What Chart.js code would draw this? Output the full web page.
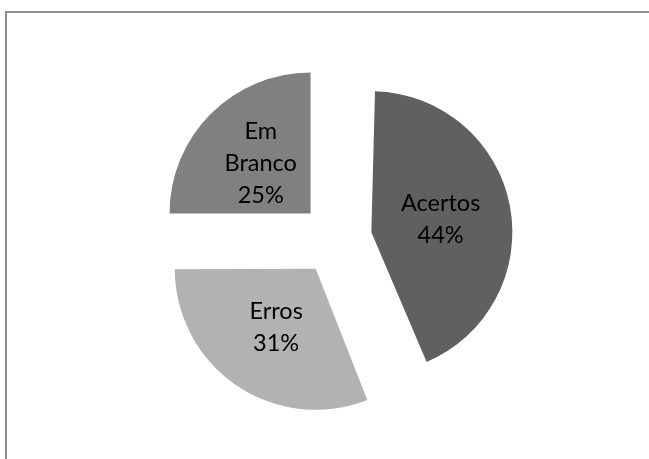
<!DOCTYPE html>
<html>
<head>
<meta charset="utf-8">
<script src="https://cdn.jsdelivr.net/npm/chart.js@4/dist/chart.umd.min.js"></script>
<style>
  html, body { margin: 0; padding: 0; background: #fff; overflow: hidden; }
  #wrap { position: relative; width: 649px; height: 459px; }
  #frame { position: absolute; left: 5px; top: 11px; width: 700px; height: 500px;
           border: 2px solid #8e8e8e; box-sizing: border-box; }
  canvas { position: absolute; left: 0; top: 0; }
</style>
</head>
<body>
<div id="wrap">
  <div id="frame"></div>
  <canvas id="c" width="649" height="459"></canvas>
</div>
<script>
// Answer breakdown
const categories = ['Acertos', 'Erros', 'Em Branco'];
const values = [44, 31, 25];
const colors = ['#606060', '#b2b2b2', '#808080'];

const EXPLODE = 36;       // distance each slice is pulled out from the centre (px)
const RADIUS = 141;
const LABEL_FONT = '23.5px Lato, "Open Sans", sans-serif';
const LINE_HEIGHT = 32;
const WRAP_WIDTH = 95;

const total = values.reduce((a, b) => a + b, 0);

// Chart.js translates an arc by offset/4 and also grows its radius by
// offset/4 * (1 - sin(circumference)); undo the growth so all slices keep one radius.
const evenRadius = {
  id: 'evenRadius',
  afterDatasetsUpdate(chart) {
    chart.getDatasetMeta(0).data.forEach((arc) => {
      const circ = arc.endAngle - arc.startAngle;
      const fix = 1 - Math.sin(Math.min(Math.PI, circ));
      arc.outerRadius = RADIUS - EXPLODE * fix;
    });
  }
};

function wrapText(ctx, text, maxWidth) {
  const words = text.split(' ');
  const lines = [];
  let line = '';
  for (const w of words) {
    const test = line ? line + ' ' + w : w;
    if (line && ctx.measureText(test).width > maxWidth) {
      lines.push(line);
      line = w;
    } else {
      line = test;
    }
  }
  if (line) lines.push(line);
  return lines;
}

const sliceLabels = {
  id: 'sliceLabels',
  afterDatasetsDraw(chart) {
    const ctx = chart.ctx;
    const meta = chart.getDatasetMeta(0);
    const ds = chart.data.datasets[0];
    ctx.save();
    ctx.font = LABEL_FONT;
    ctx.fillStyle = '#000';
    ctx.textAlign = 'center';
    ctx.textBaseline = 'middle';
    meta.data.forEach((arc, i) => {
      const p = arc.getProps(['x', 'y', 'startAngle', 'endAngle']);
      const mid = (p.startAngle + p.endAngle) / 2;
      const dist = EXPLODE + RADIUS * 0.5;
      const cx = p.x + Math.cos(mid) * dist;
      const cy = p.y + Math.sin(mid) * dist;
      const pct = Math.round(ds.data[i] / total * 100) + '%';
      const lines = wrapText(ctx, chart.data.labels[i], WRAP_WIDTH).concat([pct]);
      const top = cy - (lines.length - 1) * LINE_HEIGHT / 2;
      lines.forEach((ln, k) => ctx.fillText(ln, cx, top + k * LINE_HEIGHT));
    });
    ctx.restore();
  }
};

new Chart(document.getElementById('c'), {
  type: 'pie',
  data: {
    labels: categories,
    datasets: [{
      data: values,
      backgroundColor: colors,
      borderWidth: 0,
      radius: RADIUS,
      offset: EXPLODE * 4
    }]
  },
  options: {
    responsive: false,
    devicePixelRatio: 1,
    animation: false,
    events: [],
    layout: { padding: { left: 23, top: 19, right: 0, bottom: 0 } },
    plugins: {
      legend: { display: false },
      tooltip: { enabled: false }
    }
  },
  plugins: [evenRadius, sliceLabels]
});
</script>
</body>
</html>
